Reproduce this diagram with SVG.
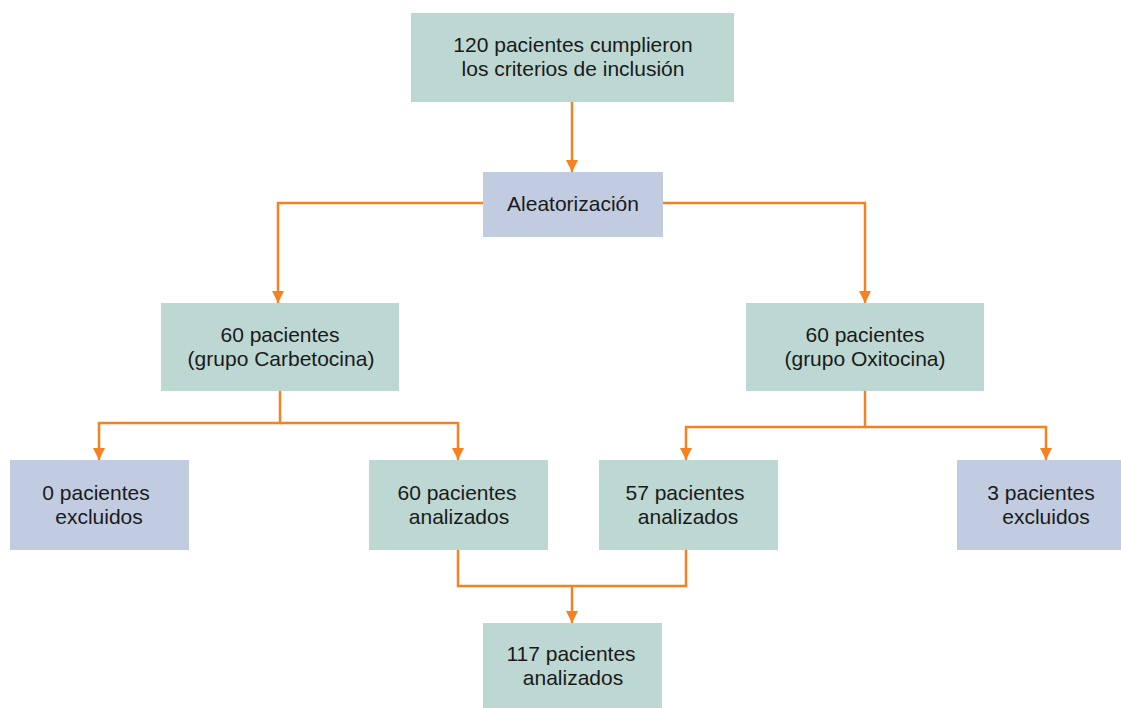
<svg xmlns="http://www.w3.org/2000/svg" width="1121" height="708" viewBox="0 0 1121 708">
<defs>
<style>
.g{fill:#BDD7D2}
.b{fill:#C1CCE0}
text{font-family:"Liberation Sans",Arial,sans-serif;font-size:21px;fill:#1a1a1a;text-anchor:middle}
.c path{fill:none;stroke:#F58220;stroke-width:2.5}
</style>
<marker id="ah" viewBox="0 0 10 10" refX="10" refY="5" markerWidth="12" markerHeight="12" markerUnits="userSpaceOnUse" orient="auto">
<path d="M0,0 L10,5 L0,10 z" fill="#F58220"/>
</marker>
</defs>
<rect width="1121" height="708" fill="#fff"/>
<g class="c">
<path d="M572,102 V172" marker-end="url(#ah)"/>
<path d="M483,203 H278 V303" marker-end="url(#ah)"/>
<path d="M663,203 H865 V303" marker-end="url(#ah)"/>
<path d="M280,391 V423 H99 V460" marker-end="url(#ah)"/>
<path d="M280,423 H458 V460" marker-end="url(#ah)"/>
<path d="M865,391 V427 H686 V460" marker-end="url(#ah)"/>
<path d="M865,427 H1046 V460" marker-end="url(#ah)"/>
<path d="M458,550 V586 H686 V550"/>
<path d="M572,586 V623" marker-end="url(#ah)"/>
</g>
<g id="n1"><rect class="g" x="411" y="13" width="323" height="89"/><text x="573" y="52">120 pacientes cumplieron</text><text x="573" y="76">los criterios de inclusión</text></g>
<g id="n2"><rect class="b" x="483" y="172" width="180" height="65"/><text x="573" y="211">Aleatorización</text></g>
<g id="n3"><rect class="g" x="161" y="303" width="238" height="88"/><text x="280" y="342">60 pacientes</text><text x="281" y="366">(grupo Carbetocina)</text></g>
<g id="n4"><rect class="g" x="746" y="303" width="238" height="88"/><text x="865" y="342">60 pacientes</text><text x="865" y="366">(grupo Oxitocina)</text></g>
<g id="n5"><rect class="b" x="10" y="460" width="179" height="90"/><text x="96" y="500">0 pacientes</text><text x="99" y="524">excluidos</text></g>
<g id="n6"><rect class="g" x="369" y="460" width="179" height="90"/><text x="457" y="500">60 pacientes</text><text x="459" y="524">analizados</text></g>
<g id="n7"><rect class="g" x="599" y="460" width="179" height="90"/><text x="685" y="500">57 pacientes</text><text x="688" y="524">analizados</text></g>
<g id="n8"><rect class="b" x="957" y="460" width="164" height="90"/><text x="1041" y="500">3 pacientes</text><text x="1046" y="524">excluidos</text></g>
<g id="n9"><rect class="g" x="483" y="623" width="179" height="85"/><text x="571" y="661">117 pacientes</text><text x="573" y="685">analizados</text></g>
</svg>
